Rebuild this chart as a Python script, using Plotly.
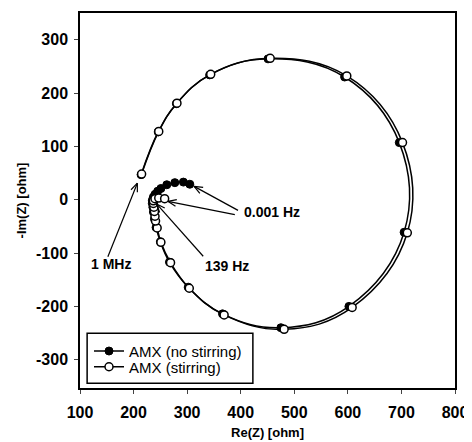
import math
import plotly.graph_objects as go

# Stirring (open circles), from 1 MHz to 0.001 Hz
re_stir = [215, 247, 281, 344, 455, 598, 702, 711, 608, 481, 369, 304, 269, 251,
           244, 241, 240, 239, 238, 237, 237, 240, 247, 258]
im_stir = [48, 128, 181, 235, 265, 232, 107, -62, -202, -243, -216, -166, -118, -80,
           -53, -40, -31, -22, -14, -7, -2, 2, 3, 2]

# No stirring (filled circles)
re_nostir = [214, 246, 280, 342, 451, 594, 696, 705, 602, 475, 366, 302, 267, 250,
             242, 239, 237, 236, 235, 235, 237, 240, 245, 251, 262, 277, 293, 305]
im_nostir = [47, 127, 180, 234, 264, 230, 107, -61, -200, -240, -214, -164, -117, -79,
             -52, -36, -23, -14, -7, -1, 5, 10, 16, 21, 28, 32, 33, 29]

x_ticks = [100, 200, 300, 400, 500, 600, 700, 800]
y_ticks = [-300, -200, -100, 0, 100, 200, 300]
y_ticktext = ["-300", "-200", "-100", "0", "100", "200", "300"]

# frequency labels and their arrows (tail -> tip), in data units
label_text = ["1 MHz", "0.001 Hz", "139 Hz"]
label_x = [157, 459, 375]
label_y = [-121, -23, -124]
arrow_tail = [(152, -107), (395, -20), (389, -28), (330, -106)]
arrow_tip = [(207, 31), (313, 25), (264, -3), (243, -8)]

FONT = "Liberation Sans, Arial, sans-serif"

fig = go.Figure()
fig.add_trace(go.Scatter(
    x=re_nostir, y=im_nostir, mode="lines+markers", name="AMX (no stirring)",
    legend="legend",
    line=dict(color="black", width=1.5, shape="spline", smoothing=1.15),
    marker=dict(symbol="circle", size=8, color="black", line=dict(color="black", width=1)),
))
fig.add_trace(go.Scatter(
    x=re_stir, y=im_stir, mode="lines+markers", name="AMX (stirring)",
    legend="legend2",
    line=dict(color="black", width=1.5, shape="spline", smoothing=1.15),
    marker=dict(symbol="circle", size=8, color="white", line=dict(color="black", width=1.5)),
))

for t, x, y in zip(label_text, label_x, label_y):
    fig.add_annotation(x=x, y=y, text=t, showarrow=False,
                       font=dict(family=FONT, size=14, color="black", weight="bold"))

# arrows drawn as shaft + open V head
barb = 17
ang = math.radians(22)
for (tx, ty), (hx, hy) in zip(arrow_tail, arrow_tip):
    line = dict(color="black", width=1.2)
    fig.add_shape(type="line", x0=tx, y0=ty, x1=hx, y1=hy, xref="x", yref="y", line=line)
    d = math.atan2(ty - hy, tx - hx)
    for s in (-1, 1):
        a = d + s * ang
        fig.add_shape(type="line", x0=hx, y0=hy,
                      x1=hx + barb * math.cos(a), y1=hy + barb * math.sin(a),
                      xref="x", yref="y", line=line)

# legend frame
fig.add_shape(type="rect", xref="paper", yref="paper",
              x0=0.019, x1=0.461, y0=0.013, y1=0.146,
              line=dict(color="black", width=1.5), fillcolor="white", layer="above")

leg_common = dict(xanchor="left", yanchor="middle", bgcolor="rgba(0,0,0,0)", borderwidth=0,
                  font=dict(family=FONT, size=15, color="black"), itemwidth=30)
fig.update_layout(
    width=464, height=434,
    margin=dict(l=72, r=17, t=3, b=54),
    paper_bgcolor="white", plot_bgcolor="white",
    font=dict(family=FONT, color="black"),
    showlegend=True,
    legend=dict(x=0.024, y=0.098, **leg_common),
    legend2=dict(x=0.024, y=0.056, **leg_common),
)
fig.update_xaxes(
    range=[100, 800], tickvals=x_ticks, ticks="outside", ticklen=4, tickwidth=1.2,
    ticklabelstandoff=5,
    showline=True, linecolor="black", linewidth=1.5, mirror=True,
    showgrid=False, zeroline=False,
    tickfont=dict(family=FONT, size=16, color="black", weight="bold"),
    title=dict(text="Re(Z) [ohm]", font=dict(family=FONT, size=13, weight="bold"), standoff=8),
)
fig.update_yaxes(
    range=[-353, 350], tickvals=y_ticks, ticktext=y_ticktext,
    ticks="outside", ticklen=4, tickwidth=1.2,
    ticklabelstandoff=3,
    showline=True, linecolor="black", linewidth=1.5, mirror=True,
    showgrid=False, zeroline=False,
    tickfont=dict(family=FONT, size=16, color="black", weight="bold"),
    title=dict(text="-Im(Z) [ohm]", font=dict(family=FONT, size=13, weight="bold"), standoff=6),
)

fig.write_html("out.html")
